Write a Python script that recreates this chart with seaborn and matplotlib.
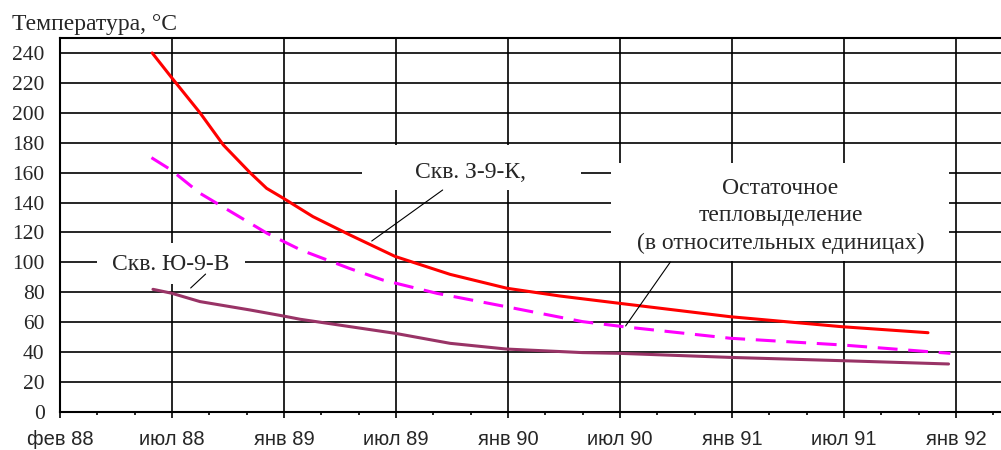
import matplotlib
matplotlib.use("Agg")
import matplotlib.pyplot as plt
from matplotlib.patches import Rectangle
from matplotlib.ticker import MultipleLocator, FixedLocator
from matplotlib.transforms import ScaledTranslation
import seaborn as sns
import pandas as pd

# x = months since фев 88
x_labels = ["фев 88", "июл 88", "янв 89", "июл 89", "янв 90",
            "июл 90", "янв 91", "июл 91", "янв 92"]
x_ticks = [0, 6, 12, 18, 24, 30, 36, 42, 48]

red_x = [4.94, 5.95, 7.5, 8.75, 10.18, 11.07, 11.95, 13.55, 15.54, 17.95,
         20.9, 23.95, 26.8, 30.0, 35.9, 41.9, 46.5]
red_y = [240, 224, 200, 178.5, 160, 149.5, 143, 130.6, 118.3, 104,
         92, 82.7, 77.5, 72.6, 63.7, 57, 53]

mag_x = [4.9, 5.95, 7.5, 9.3, 11.1, 12.9, 15.5, 17.3, 20.2, 23.9,
         28.0, 30.2, 35.9, 41.9, 47.7]
mag_y = [170, 161.8, 146.2, 132.8, 119.4, 108.3, 96, 88.2, 79.3, 70.4,
         60.4, 57, 49.3, 44.8, 39.2]

pur_x = [4.98, 5.98, 7.5, 10.18, 11.95, 12.86, 17.95, 20.9, 23.9, 28.0,
         30.0, 35.9, 41.9, 47.6]
pur_y = [82, 79.4, 73.8, 68.2, 64.2, 62, 52.6, 45.9, 42.1, 39.7,
         39.2, 36.5, 34.3, 32.1]

sns.set_style("white")
plt.rcParams["font.family"] = ["Liberation Serif", "DejaVu Serif"]

fig = plt.figure(figsize=(10.01, 4.5), dpi=100)
ax = fig.add_axes([60 / 1001, 38 / 450, 952 / 1001, 374 / 450])

df_red = pd.DataFrame({"x": red_x, "y": red_y})
df_mag = pd.DataFrame({"x": mag_x, "y": mag_y})
df_pur = pd.DataFrame({"x": pur_x, "y": pur_y})

sns.lineplot(data=df_pur, x="x", y="y", ax=ax, color="#993366", lw=2.2, zorder=3)
sns.lineplot(data=df_mag, x="x", y="y", ax=ax, color="#FF00FF", lw=2.2, zorder=3,
             linestyle=(0, (6.5, 3.5)))
sns.lineplot(data=df_red, x="x", y="y", ax=ax, color="#FF0000", lw=2.2, zorder=3)

ax.set_xlim(0, 51)
ax.set_ylim(0, 250)
ax.set_xlabel("")
ax.set_ylabel("")

ax.yaxis.set_major_locator(MultipleLocator(20))
ax.xaxis.set_major_locator(FixedLocator(x_ticks))
ax.xaxis.set_minor_locator(MultipleLocator(2))
ax.set_xticklabels(x_labels, fontfamily="Liberation Sans", fontsize=14.5)
shift = ScaledTranslation(0, -3 / 100, fig.dpi_scale_trans)
for lab in ax.get_yticklabels():
    lab.set_fontsize(15.5)
    lab.set_transform(lab.get_transform() + shift)

ax.grid(True, which="major", color="black", lw=1.2, zorder=0)
ax.set_axisbelow(True)
ax.tick_params(axis="y", length=0, pad=11)
ax.tick_params(axis="x", which="major", direction="out", length=4, width=1.2,
               color="black", pad=9, bottom=True)
ax.tick_params(axis="x", which="minor", direction="out", length=2.5, width=1.2,
               color="black", bottom=True)
for s in ax.spines.values():
    s.set_color("black")
    s.set_linewidth(1.5)

fig.text(12 / 1001, 1 - 30 / 450, "Температура, °C", fontsize=17,
         ha="left", va="baseline")

# white label boxes covering the grid
boxes = [(16.2, 148.4, 11.7, 30.1), (29.5, 100.9, 18.1, 65.5), (2.0, 85.6, 7.9, 27.4)]
for bx, by, bw, bh in boxes:
    ax.add_patch(Rectangle((bx, by), bw, bh, facecolor="white", edgecolor="none",
                           zorder=1))

ax.text(22.0, 160.4, "Скв. З-9-К,", fontsize=17, ha="center", va="center", zorder=5)
ax.text(38.6, 131, "Остаточное\nтепловыделение\n(в относительных единицах)",
        fontsize=17, ha="center", va="center", linespacing=1.42, zorder=5)
ax.text(5.95, 98.3, "Скв. Ю-9-В", fontsize=17, ha="center", va="center", zorder=5)

# leader lines
ax.plot([20.5, 16.7], [148.4, 114.3], color="black", lw=0.8, zorder=4)
ax.plot([32.7, 30.3], [100.3, 57.5], color="black", lw=0.8, zorder=4)
ax.plot([7.8, 7.0], [92.2, 82.9], color="black", lw=0.8, zorder=4)

fig.savefig("out.png", dpi=100)
